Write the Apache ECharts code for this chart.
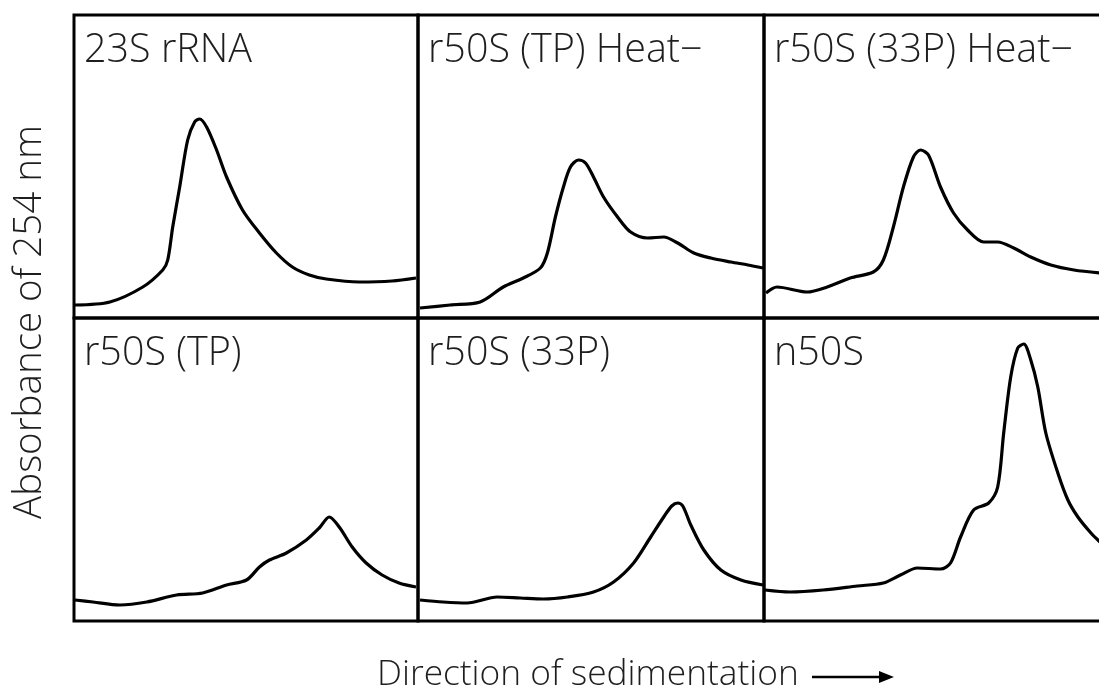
<!DOCTYPE html>
<html>
<head>
<meta charset="utf-8">
<script src="https://cdn.jsdelivr.net/npm/echarts@6/dist/echarts.min.js"></script>
<style>
  html, body { margin: 0; padding: 0; background: #ffffff; }
  #chart { width: 1099px; height: 691px; }
</style>
</head>
<body>
<div id="chart"></div>
<script>
// Sucrose-gradient profiles (A254, arbitrary units) vs. position along the gradient
const panelNames = ['23S rRNA', 'r50S (TP) Heat\u2212', 'r50S (33P) Heat\u2212', 'r50S (TP)', 'r50S (33P)', 'n50S'];

const pos23S = [1, 36, 69, 89, 94, 99, 106, 114, 121, 126, 133, 143, 153, 169, 186, 203, 219, 236, 253, 286, 319, 343];
const abs23S = [13, 16, 31, 48, 58, 91, 131, 178, 196, 199, 191, 168, 141, 108, 85, 65, 51, 43, 39, 36, 37, 40];

const posTPHeat = [2, 32, 62, 85, 105, 122, 129, 137, 145, 152, 160, 167, 175, 185, 199, 212, 229, 245, 259, 275, 292, 312, 329, 344];
const absTPHeat = [10, 13, 16, 31, 40, 50, 65, 101, 131, 151, 158, 155, 141, 121, 101, 86, 80, 81, 75, 65, 60, 56, 53, 50];

const pos33PHeat = [2, 13, 43, 63, 86, 109, 119, 129, 139, 149, 156, 164, 176, 189, 203, 219, 233, 249, 266, 286, 309, 335];
const abs33PHeat = [25, 31, 26, 31, 40, 46, 58, 91, 131, 161, 168, 163, 131, 105, 88, 76, 76, 70, 61, 53, 48, 45];

const posTP = [1, 19, 46, 73, 103, 129, 153, 173, 186, 196, 213, 233, 246, 256, 266, 279, 293, 309, 326, 343];
const absTP = [21, 19, 16, 19, 26, 28, 36, 41, 54, 61, 68, 81, 93, 104, 94, 74, 58, 46, 38, 34];

const pos33P = [2, 25, 49, 79, 102, 125, 149, 175, 195, 215, 232, 245, 253, 259, 264, 272, 285, 302, 322, 344];
const abs33P = [21, 19, 18, 24, 23, 22, 24, 29, 39, 58, 84, 104, 115, 118, 115, 96, 71, 51, 41, 36];

const posN50S = [1, 26, 59, 93, 119, 136, 153, 176, 186, 196, 209, 224, 233, 239, 246, 253, 259, 266, 273, 281, 293, 303, 313, 326, 335];
const absN50S = [31, 29, 31, 35, 38, 46, 53, 52, 58, 84, 111, 118, 134, 188, 244, 273, 277, 261, 234, 188, 148, 121, 104, 88, 79];

const positions = [pos23S, posTPHeat, pos33PHeat, posTP, pos33P, posN50S];
const absorbances = [abs23S, absTPHeat, abs33PHeat, absTP, abs33P, absN50S];

const yTitle = 'Absorbance of 254 nm';
const xTitle = 'Direction of sedimentation';

// panel layout: 3 columns x 2 rows (the last column runs past the right edge)
const colLeft = [74, 418, 764];
const colWidth = [344, 346, 346];
const rowTop = [15, 318];
const rowHeight = 303;
const FONT = '"Open Sans", "Noto Sans", sans-serif';
const TEXT_COLOR = '#1e1e1e';

const grids = [], xAxes = [], yAxes = [], series = [], graphics = [];
panelNames.forEach((name, i) => {
  const c = i % 3, r = Math.floor(i / 3);
  grids.push({
    left: colLeft[c], top: rowTop[r], width: colWidth[c], height: rowHeight,
    outerBoundsMode: 'none', containLabel: false,
    show: true, borderColor: '#000', borderWidth: 3, backgroundColor: 'transparent'
  });
  xAxes.push({ type: 'value', gridIndex: i, min: 0, max: 345, show: false });
  yAxes.push({ type: 'value', gridIndex: i, min: 0, max: 303, show: false });
  series.push({
    type: 'line', xAxisIndex: i, yAxisIndex: i,
    data: positions[i].map((x, k) => [x, absorbances[i][k]]),
    showSymbol: false, smooth: 0.3, silent: true, clip: false,
    lineStyle: { color: '#000', width: 3.2 }
  });
  graphics.push({
    type: 'text', left: colLeft[c] + 10, top: rowTop[r] + 16,
    style: { text: name, font: '300 39.5px ' + FONT, fill: TEXT_COLOR }
  });
});

// y-axis title, rotated
graphics.push({
  type: 'text', x: 30, y: 322, rotation: Math.PI / 2,
  style: { text: yTitle, font: '300 38.5px ' + FONT, fill: TEXT_COLOR, align: 'center', verticalAlign: 'middle' }
});
// x-axis title with arrow
graphics.push({
  type: 'text', x: 377, y: 675,
  style: { text: xTitle, font: '300 35.3px ' + FONT, fill: TEXT_COLOR, align: 'left', verticalAlign: 'middle' }
});
graphics.push({
  type: 'line', shape: { x1: 812, y1: 677, x2: 882, y2: 677 },
  style: { stroke: '#000', lineWidth: 2.5 }
});
graphics.push({
  type: 'polygon', shape: { points: [[894, 677], [879, 671], [879, 683]] },
  style: { fill: '#000' }
});

const chart = echarts.init(document.getElementById('chart'), null, { renderer: 'canvas' });
chart.setOption({
  animation: false,
  backgroundColor: '#ffffff',
  grid: grids,
  xAxis: xAxes,
  yAxis: yAxes,
  series: series,
  graphic: graphics
});
</script>
</body>
</html>
